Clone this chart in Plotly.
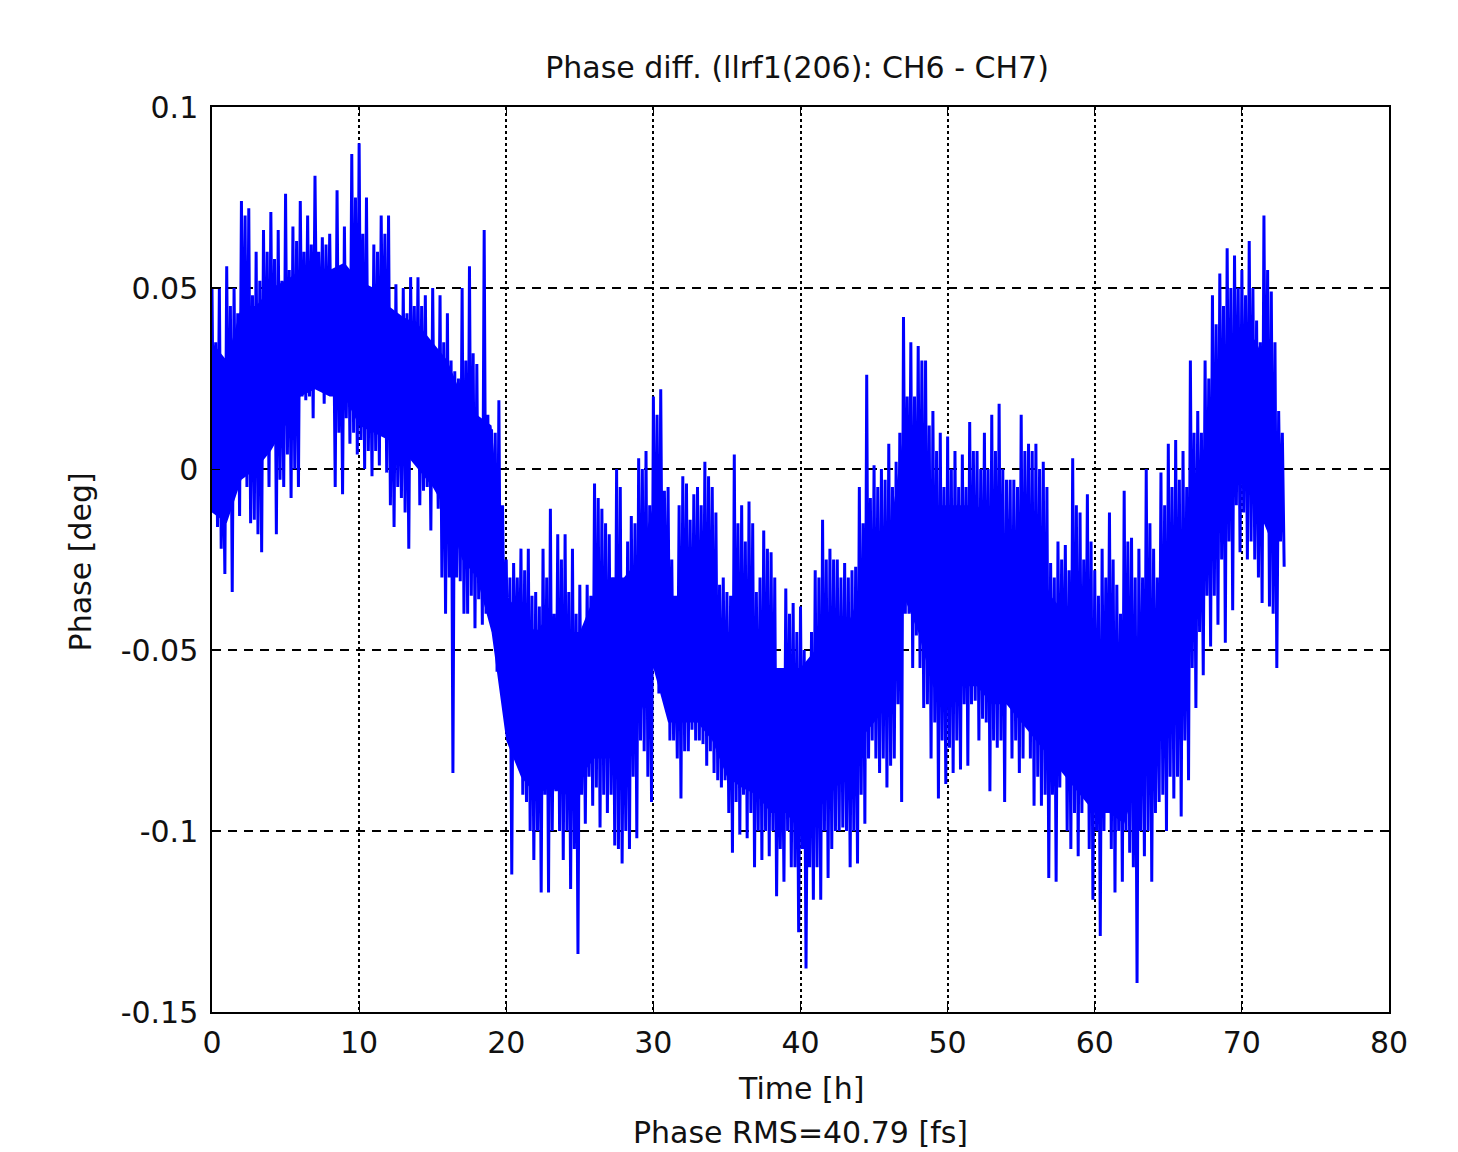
import plotly.graph_objects as go

# ---- data ----
# half-hour bins, each read as four alternating extremes:
# top of 1st quarter, bottom of 1st quarter, top of 2nd quarter, bottom of 2nd quarter
bin_step_h = 0.5
spike_hi = [
    0.05, 0.05, 0.056, 0.05, 0.074, 0.072, 0.06, 0.066, 0.071, 0.066,
    0.076, 0.067, 0.074, 0.07, 0.081, 0.064, 0.065, 0.077, 0.067, 0.087,
    0.09, 0.075, 0.062, 0.07, 0.07, 0.051, 0.05, 0.053, 0.053, 0.048,
    0.05, 0.048, 0.043, 0.027, 0.05, 0.056, 0.029, 0.066, 0.011, 0.019,
    -0.025, -0.026, -0.022, -0.022, -0.034, -0.022, -0.011, -0.018, -0.018, -0.022,
    -0.032, -0.032, -0.004, -0.011, -0.018, 0.0, -0.041, -0.013, 0.003, 0.005,
    0.02, 0.022, -0.005, -0.037, -0.002, -0.014, -0.005, 0.002, -0.005, -0.032,
    -0.034, 0.004, -0.01, -0.009, -0.034, -0.017, -0.023, -0.059, -0.033, -0.037,
    -0.038, -0.057, -0.028, -0.014, -0.022, -0.025, -0.026, -0.028, -0.005, 0.026,
    0.001, 0.0, 0.007, 0.002, 0.042, 0.035, 0.034, 0.03, 0.016, 0.01,
    0.009, 0.005, 0.004, 0.013, 0.005, 0.01, 0.015, 0.018, -0.003, -0.003,
    0.015, 0.007, 0.007, 0.002, -0.026, -0.02, -0.021, 0.003, -0.012, -0.007,
    -0.028, -0.022, -0.012, -0.032, -0.006, -0.019, -0.022, 0.0, -0.022, -0.001,
    0.007, 0.008, 0.005, 0.03, 0.016, 0.03, 0.048, 0.054, 0.061, 0.059,
    0.055, 0.063, 0.041, 0.07, 0.049, 0.016,
]
spike_lo2 = [
    -0.01, -0.022, -0.012, -0.005, 0.012, -0.015, -0.018, 0.008, 0.01, -0.003,
    0.004, 0.0, 0.02, 0.02, 0.03, 0.018, 0.025, 0.01, 0.014, 0.01,
    0.008, 0.005, 0.005, 0.02, -0.01, -0.005, -0.012, 0.005, -0.01, -0.005,
    -0.005, -0.03, -0.03, -0.03, -0.04, -0.035, -0.036, -0.04, -0.045, -0.06,
    -0.07, -0.068, -0.09, -0.1, -0.1, -0.09, -0.1, -0.1, -0.1, -0.105,
    -0.09, -0.085, -0.088, -0.09, -0.09, -0.105, -0.1, -0.085, -0.075, -0.085,
    -0.055, -0.055, -0.075, -0.08, -0.078, -0.072, -0.075, -0.082, -0.084, -0.088,
    -0.095, -0.092, -0.09, -0.095, -0.1, -0.1, -0.1, -0.105, -0.1, -0.11,
    -0.105, -0.11, -0.11, -0.1, -0.105, -0.1, -0.1, -0.1, -0.09, -0.08,
    -0.08, -0.08, -0.082, -0.065, -0.04, -0.055, -0.055, -0.065, -0.07, -0.075,
    -0.077, -0.075, -0.065, -0.065, -0.075, -0.07, -0.075, -0.075, -0.065, -0.075,
    -0.08, -0.08, -0.085, -0.09, -0.09, -0.088, -0.1, -0.095, -0.095, -0.105,
    -0.1, -0.1, -0.105, -0.1, -0.1, -0.11, -0.1, -0.1, -0.095, -0.09,
    -0.085, -0.085, -0.075, -0.055, -0.045, -0.035, -0.035, -0.025, -0.02, -0.01,
    -0.012, -0.02, -0.03, -0.015, -0.04, -0.02,
]
spike_hi2 = [
    0.035, 0.012, 0.045, 0.043, 0.07, 0.048, 0.052, 0.06, 0.058, 0.052,
    0.055, 0.063, 0.06, 0.062, 0.06, 0.062, 0.05, 0.055, 0.055, 0.075,
    0.065, 0.048, 0.06, 0.065, 0.04, 0.035, 0.043, 0.045, 0.045, 0.035,
    0.03, 0.035, 0.03, 0.025, 0.03, 0.032, 0.012, 0.015, 0.01, -0.01,
    -0.03, -0.03, -0.028, -0.035, -0.038, -0.03, -0.04, -0.025, -0.034, -0.04,
    -0.045, -0.035, -0.008, -0.015, -0.03, -0.005, -0.02, -0.015, 0.0, -0.01,
    0.015, -0.006, -0.025, -0.01, -0.004, -0.007, -0.01, -0.002, -0.012, -0.03,
    -0.035, -0.015, -0.02, -0.015, -0.03, -0.022, -0.03, -0.06, -0.04, -0.045,
    -0.05, -0.045, -0.03, -0.025, -0.025, -0.03, -0.03, -0.027, -0.015, -0.008,
    -0.005, -0.003, -0.005, 0.01, 0.02, 0.02, 0.03, 0.012, 0.005, -0.005,
    0.0, -0.005, -0.005, 0.005, 0.0, 0.0, 0.005, 0.0, -0.003, -0.005,
    0.005, 0.005, 0.0, -0.005, -0.03, -0.025, -0.028, -0.01, -0.025, -0.02,
    -0.035, -0.03, -0.025, -0.04, -0.02, -0.03, -0.03, -0.015, -0.03, -0.01,
    -0.005, -0.003, -0.005, 0.01, 0.01, 0.025, 0.04, 0.045, 0.05, 0.05,
    0.048, 0.05, 0.035, 0.055, 0.035, 0.01,
]
spike_lo = [
    -0.016, -0.029, -0.034, -0.013, -0.005, -0.014, -0.023, -0.005, -0.018, -0.005,
    -0.008, -0.005, 0.019, 0.014, 0.028, 0.022, -0.005, -0.007, 0.007, 0.004,
    0.0, -0.002, 0.001, -0.001, -0.016, -0.008, -0.022, 0.002, -0.006, -0.017,
    -0.011, -0.04, -0.084, -0.031, -0.04, -0.044, -0.043, -0.038, -0.056, -0.057,
    -0.112, -0.069, -0.092, -0.108, -0.117, -0.117, -0.089, -0.108, -0.116, -0.134,
    -0.098, -0.093, -0.099, -0.095, -0.104, -0.109, -0.105, -0.102, -0.078, -0.092,
    -0.062, -0.062, -0.075, -0.091, -0.078, -0.075, -0.076, -0.078, -0.086, -0.086,
    -0.106, -0.101, -0.102, -0.11, -0.108, -0.107, -0.118, -0.114, -0.11, -0.128,
    -0.138, -0.119, -0.119, -0.113, -0.1, -0.099, -0.11, -0.109, -0.098, -0.075,
    -0.084, -0.088, -0.08, -0.092, -0.04, -0.046, -0.066, -0.08, -0.091, -0.087,
    -0.084, -0.083, -0.082, -0.064, -0.069, -0.089, -0.077, -0.092, -0.08, -0.084,
    -0.067, -0.093, -0.093, -0.113, -0.114, -0.077, -0.105, -0.107, -0.081, -0.119,
    -0.129, -0.09, -0.117, -0.114, -0.106, -0.142, -0.107, -0.114, -0.092, -0.1,
    -0.091, -0.096, -0.086, -0.066, -0.057, -0.049, -0.043, -0.048, -0.039, -0.023,
    -0.025, -0.025, -0.037, -0.038, -0.055, -0.027,
]
# hourly dense core of the trace (upper / lower edge of the solid band)
core_hours = list(range(0, 73))
core_hi = [
    0.035, 0.03, 0.045, 0.045, 0.05, 0.052, 0.055, 0.056, 0.055, 0.057,
    0.052, 0.05, 0.045, 0.042, 0.04, 0.035, 0.03, 0.02, 0.015, 0.012,
    -0.035, -0.04, -0.045, -0.04, -0.045, -0.045, -0.035, -0.03, -0.03, -0.025,
    -0.01, -0.035, -0.035, -0.03, -0.035, -0.045, -0.045, -0.05, -0.055, -0.055,
    -0.055, -0.05, -0.045, -0.045, -0.035, -0.025, -0.02, 0.01, 0.01, -0.01,
    -0.01, -0.01, -0.01, -0.015, -0.02, -0.02, -0.025, -0.035, -0.04, -0.04,
    -0.045, -0.05, -0.05, -0.05, -0.04, -0.035, -0.02, -0.005, 0.02, 0.035,
    0.04, 0.035, 0.025,
]
core_lo = [
    -0.012, -0.015, -0.003, 0.0, 0.005, 0.012, 0.02, 0.022, 0.02, 0.02,
    0.012, 0.01, 0.008, 0.005, 0.0, -0.005, -0.012, -0.025, -0.03, -0.045,
    -0.075, -0.085, -0.09, -0.088, -0.09, -0.085, -0.08, -0.08, -0.075, -0.07,
    -0.055, -0.07, -0.07, -0.07, -0.075, -0.085, -0.088, -0.09, -0.095, -0.095,
    -0.1, -0.095, -0.09, -0.085, -0.075, -0.07, -0.065, -0.035, -0.045, -0.06,
    -0.065, -0.06, -0.06, -0.065, -0.065, -0.07, -0.075, -0.08, -0.085, -0.09,
    -0.095, -0.095, -0.098, -0.085, -0.08, -0.065, -0.045, -0.02, -0.005, -0.002,
    -0.002, -0.01, -0.02,
]
x_ticks = [0, 10, 20, 30, 40, 50, 60, 70, 80]
y_ticks = [-0.15, -0.1, -0.05, 0, 0.05, 0.1]
y_tick_text = ["-0.15", "-0.1", "-0.05", "0", "0.05", "0.1"]

title_text = "Phase diff. (llrf1(206): CH6 - CH7)"
xlabel_text = "Time [h]"
rms_text = "Phase RMS=40.79 [fs]"
ylabel_text = "Phase [deg]"

# ---- build traces ----
spike_x, spike_y = [], []
q = bin_step_h / 4
for i, vals in enumerate(zip(spike_hi, spike_lo2, spike_hi2, spike_lo)):
    t = i * bin_step_h
    for k, v in enumerate(vals):
        spike_x.append(t + k * q)
        spike_y.append(v)

band_x = core_hours + core_hours[::-1]
band_y = core_hi + core_lo[::-1]

BLUE = "#0000FF"
FONT = "DejaVu Sans, Liberation Sans, sans-serif"
TXT = dict(family=FONT, size=30, color="#111")

fig = go.Figure()
fig.add_trace(go.Scatter(x=band_x, y=band_y, fill="toself", fillcolor=BLUE,
                         line=dict(width=0, color=BLUE), mode="lines",
                         hoverinfo="skip", showlegend=False))
fig.add_trace(go.Scatter(x=spike_x, y=spike_y, mode="lines",
                         line=dict(color=BLUE, width=3, simplify=False),
                         showlegend=False))

axis_common = dict(showline=True, linecolor="black", linewidth=1.5, mirror="ticks",
                   ticks="inside", ticklen=8, tickwidth=1.2, tickcolor="black",
                   showgrid=True, gridcolor="black", gridwidth=1.6, zeroline=False,
                   tickfont=TXT)

fig.update_xaxes(range=[0, 80], tickvals=x_ticks, griddash="3px,3px",
                 ticklabelstandoff=3, **axis_common)
fig.update_yaxes(range=[-0.15, 0.1], tickvals=y_ticks, ticktext=y_tick_text,
                 griddash="9px,7px", ticklabelstandoff=6, **axis_common)

fig.update_layout(
    width=1450, height=1144,
    margin=dict(l=204, r=69, t=99, b=140),
    paper_bgcolor="white", plot_bgcolor="white",
    font=TXT,
    title=dict(text=title_text, x=789 / 1450, xanchor="center", y=1 - 59 / 1144,
               yanchor="middle", font=TXT),
    annotations=[
        dict(text=xlabel_text, xref="paper", yref="paper", x=0.5, y=-0.084,
             xanchor="center", yanchor="middle", showarrow=False, font=TXT),
        dict(text=rms_text, xref="paper", yref="paper", x=0.5, y=-0.1326,
             xanchor="center", yanchor="middle", showarrow=False, font=TXT),
        dict(text=ylabel_text, xref="paper", yref="paper", x=-0.112, y=0.497,
             xanchor="center", yanchor="middle", showarrow=False, textangle=-90,
             font=TXT),
    ],
)

fig.write_html("out.html")
